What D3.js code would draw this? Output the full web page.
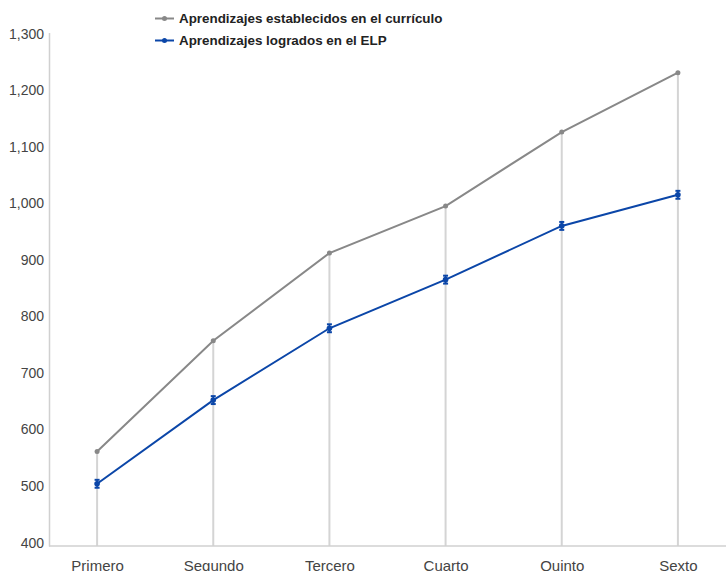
<!DOCTYPE html>
<html>
<head>
<meta charset="utf-8">
<script src="https://cdn.jsdelivr.net/npm/d3@7/dist/d3.min.js"></script>
<style>
  body { margin: 0; background: #fff; }
  svg { display: block; }
  text { font-family: "Liberation Sans", Arial, Helvetica, sans-serif; }
</style>
</head>
<body>
<svg id="chart" width="726" height="571"></svg>
<script>
const categories = ["Primero", "Segundo", "Tercero", "Cuarto", "Quinto", "Sexto"];
const curriculo = [559, 755, 910, 993, 1124, 1229];
const logrados = [502, 650, 777, 863, 958, 1013];
const logradosErr = [7, 7, 7, 7, 7, 7];
const yTicks = [400, 500, 600, 700, 800, 900, 1000, 1100, 1200, 1300];
const seriesNames = ["Aprendizajes establecidos en el currículo", "Aprendizajes logrados en el ELP"];
const seriesColors = ["#888888", "#0b46a8"];

const svg = d3.select("#chart");
const x = d3.scalePoint().domain(categories).range([49, 726]).padding(0.414);
const y = d3.scaleLinear().domain([392, 1300]).range([546, 32.5]);
const fmt = d3.format(",");

// vertical drop lines
svg.append("g").selectAll("line").data(categories).join("line")
  .attr("x1", d => x(d)).attr("x2", d => x(d))
  .attr("y1", y(392)).attr("y2", (d, i) => y(curriculo[i]))
  .attr("stroke", "#d4d4d4").attr("stroke-width", 2);

// y axis
const yAxis = svg.append("g").attr("transform", "translate(49,0)")
  .call(d3.axisLeft(y).tickValues(yTicks).tickFormat(fmt).tickSize(0).tickPadding(5));
yAxis.select(".domain").attr("stroke", "#d0d0d0").attr("stroke-width", 1.5);
yAxis.selectAll("text").attr("font-size", 14).attr("fill", "#444").attr("dy", "0.4em");

// x axis
const xAxis = svg.append("g").attr("transform", "translate(0,546)")
  .call(d3.axisBottom(x).tickSize(0).tickPadding(14));
xAxis.select(".domain").attr("stroke", "#d0d0d0").attr("stroke-width", 1.5)
  .attr("d", "M49,0H726");
xAxis.selectAll("text").attr("font-size", 15).attr("fill", "#444");

const line = d3.line().x((d, i) => x(categories[i])).y(d => y(d));

// gray series
svg.append("path").datum(curriculo).attr("d", line)
  .attr("fill", "none").attr("stroke", seriesColors[0]).attr("stroke-width", 2);
svg.append("g").selectAll("circle").data(curriculo).join("circle")
  .attr("cx", (d, i) => x(categories[i])).attr("cy", d => y(d)).attr("r", 2.5)
  .attr("fill", seriesColors[0]);

// blue series
svg.append("path").datum(logrados).attr("d", line)
  .attr("fill", "none").attr("stroke", seriesColors[1]).attr("stroke-width", 2);
const eb = svg.append("g");
logrados.forEach((v, i) => {
  const cx = x(categories[i]);
  const e = logradosErr[i];
  eb.append("line").attr("x1", cx).attr("x2", cx).attr("y1", y(v - e)).attr("y2", y(v + e))
    .attr("stroke", seriesColors[1]).attr("stroke-width", 1.5);
  [v - e, v + e].forEach(t => {
    eb.append("line").attr("x1", cx - 2.5).attr("x2", cx + 2.5).attr("y1", y(t)).attr("y2", y(t))
      .attr("stroke", seriesColors[1]).attr("stroke-width", 2);
  });
});
svg.append("g").selectAll("circle").data(logrados).join("circle")
  .attr("cx", (d, i) => x(categories[i])).attr("cy", d => y(d)).attr("r", 2.8)
  .attr("fill", seriesColors[1]);

// legend
const legend = svg.append("g");
seriesNames.forEach((name, i) => {
  const ly = 18.5 + i * 22;
  legend.append("line").attr("x1", 155).attr("x2", 174).attr("y1", ly).attr("y2", ly)
    .attr("stroke", seriesColors[i]).attr("stroke-width", 2);
  legend.append("circle").attr("cx", 164.5).attr("cy", ly).attr("r", 2.5).attr("fill", seriesColors[i]);
  legend.append("text").attr("x", 179).attr("y", ly).attr("dy", "0.36em")
    .attr("font-size", 13.4).attr("font-weight", "bold").attr("fill", "#222").text(name);
});
</script>
</body>
</html>
